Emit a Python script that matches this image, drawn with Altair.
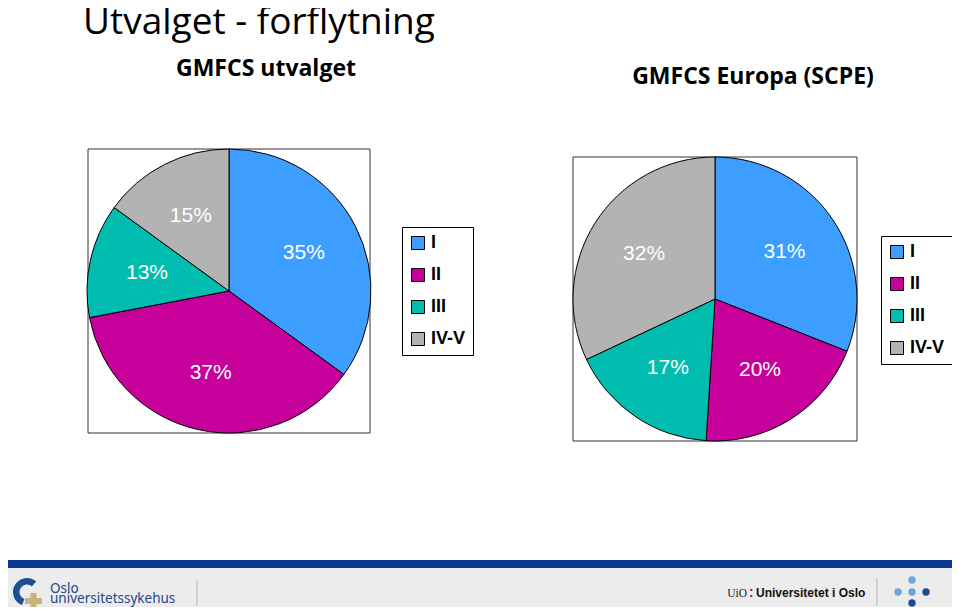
import altair as alt
import pandas as pd

# ---- data ----
categories = ["I", "II", "III", "IV-V"]
utvalget_pct = [35, 37, 13, 15]
europa_pct = [31, 20, 17, 32]
slice_colors = ["#3d9eff", "#c8009b", "#00bdb0", "#b3b3b3"]

title_text = "Utvalget - forflytning"
left_title = "GMFCS utvalget"
right_title = "GMFCS Europa (SCPE)"


def pie_frame(values):
    return pd.DataFrame({
        "gmfcs": categories,
        "pct": values,
        "idx": list(range(len(categories))),
        "label": [f"{v}%" for v in values],
    })


df_left = pie_frame(utvalget_pct)
df_right = pie_frame(europa_pct)
one = pd.DataFrame({"a": [0]})

W, H = 944, 599
OFF = 8  # page margin


def P(v):
    return v - OFF


# ---- footer ----
blue_bar = alt.Chart(one).mark_rect(color="#0b3a8e").encode(
    x=alt.value(0), x2=alt.value(W), y=alt.value(P(560)), y2=alt.value(P(568)))
grey_band = alt.Chart(one).mark_rect(color="#ececec").encode(
    x=alt.value(0), x2=alt.value(W), y=alt.value(P(568)), y2=alt.value(H))
sep1 = alt.Chart(one).mark_rule(color="#b8b8c8", strokeWidth=1).encode(
    x=alt.value(P(197)), y=alt.value(P(580)), y2=alt.value(P(606)))
sep2 = alt.Chart(one).mark_rule(color="#b8b8c8", strokeWidth=1).encode(
    x=alt.value(P(877)), y=alt.value(P(578)), y2=alt.value(P(606)))
ring = alt.Chart(one).mark_arc(color="#1d4f91", radius=14, radius2=7.5,
                               theta=3.5, theta2=7.0).encode(
    x=alt.value(P(27)), y=alt.value(P(592)))
cross_h = alt.Chart(one).mark_rect(color="#c9b27c").encode(
    x=alt.value(P(25)), x2=alt.value(P(42)), y=alt.value(P(598)), y2=alt.value(P(604)))
cross_v = alt.Chart(one).mark_rect(color="#c9b27c").encode(
    x=alt.value(P(30.5)), x2=alt.value(P(36.5)), y=alt.value(P(593)), y2=alt.value(P(607)))
ous1 = alt.Chart(one).mark_text(text="Oslo", font="Noto Sans", fontSize=13.5,
                                color="#23468a", align="left", baseline="alphabetic").encode(
    x=alt.value(P(50)), y=alt.value(P(593)))
ous2 = alt.Chart(one).mark_text(text="universitetssykehus", font="Noto Sans", fontSize=13.5,
                                color="#23468a", align="left", baseline="alphabetic").encode(
    x=alt.value(P(50)), y=alt.value(P(603)))
uio1 = alt.Chart(one).mark_text(text="UiO", font="Liberation Serif", fontSize=11.5,
                                color="#222222", align="right", baseline="alphabetic").encode(
    x=alt.value(P(747)), y=alt.value(P(597)))
uio_colon = alt.Chart(one).mark_text(text=":", font="Liberation Sans", fontSize=14,
                                     fontWeight="bold", color="#d0021b", align="left",
                                     baseline="alphabetic").encode(
    x=alt.value(P(749)), y=alt.value(P(597)))
uio2 = alt.Chart(one).mark_text(text="Universitetet i Oslo", font="Liberation Sans",
                                fontSize=12, fontWeight="bold", color="#111111",
                                align="left", baseline="alphabetic").encode(
    x=alt.value(P(756)), y=alt.value(P(597)))
dots_light = [(912, 580), (898, 592), (912, 592)]
dots_dark = [(926, 592), (912, 603)]
dot_layers = []
for (dx, dy) in dots_light:
    dot_layers.append(alt.Chart(one).mark_circle(color="#6aa6dc", opacity=1, size=55).encode(
        x=alt.value(P(dx)), y=alt.value(P(dy))))
for (dx, dy) in dots_dark:
    dot_layers.append(alt.Chart(one).mark_circle(color="#1b4f8e", opacity=1, size=55).encode(
        x=alt.value(P(dx)), y=alt.value(P(dy))))

# ---- titles ----
main_title = alt.Chart(one).mark_text(text=title_text, font="Open Sans", fontSize=37,
                                      color="black", align="left", baseline="alphabetic").encode(
    x=alt.value(P(83)), y=alt.value(P(34)))
sub_left = alt.Chart(one).mark_text(text=left_title, font="Open Sans", fontSize=23,
                                    fontWeight="bold", color="black", align="center",
                                    baseline="alphabetic").encode(
    x=alt.value(P(266)), y=alt.value(P(76)))
sub_right = alt.Chart(one).mark_text(text=right_title, font="Open Sans", fontSize=23,
                                     fontWeight="bold", color="black", align="center",
                                     baseline="alphabetic").encode(
    x=alt.value(P(753)), y=alt.value(P(84)))

# ---- frames ----
frame_left = alt.Chart(one).mark_rect(fill="white", stroke="#333333", strokeWidth=1).encode(
    x=alt.value(P(88)), x2=alt.value(P(370)), y=alt.value(P(149)), y2=alt.value(P(433)))
frame_right = alt.Chart(one).mark_rect(fill="white", stroke="#333333", strokeWidth=1).encode(
    x=alt.value(P(573)), x2=alt.value(P(857)), y=alt.value(P(157)), y2=alt.value(P(441)))


def legend_at(lx, ly):
    return alt.Legend(orient="none", legendX=lx, legendY=ly, title=None,
                      symbolType="square", symbolSize=169, symbolStrokeColor="black",
                      symbolStrokeWidth=1, symbolOpacity=1,
                      labelFont="Liberation Sans", labelFontSize=18, labelFontWeight="bold",
                      labelColor="black", labelOffset=4, padding=7, rowPadding=14,
                      strokeColor="black", fillColor="white")


def pie(df, cx, cy, lx, ly):
    base = alt.Chart(df).encode(
        theta=alt.Theta("pct:Q", stack=True),
        order=alt.Order("idx:Q"),
        x=alt.value(P(cx)), y=alt.value(P(cy)),
    )
    arcs = base.mark_arc(radius=142, stroke="black", strokeWidth=1).encode(
        color=alt.Color("gmfcs:N",
                        scale=alt.Scale(domain=categories, range=slice_colors),
                        legend=legend_at(lx, ly)))
    labels = base.mark_text(radius=84, font="Liberation Sans", fontSize=21,
                            color="white").encode(text="label:N")
    return arcs, labels


arcs_l, labels_l = pie(df_left, 229, 291, P(402), P(227))
arcs_r, labels_r = pie(df_right, 715, 299, P(881), P(236))

chart = alt.layer(
    blue_bar, grey_band, sep1, sep2, ring, cross_h, cross_v, ous1, ous2,
    uio1, uio_colon, uio2, *dot_layers,
    main_title, sub_left, sub_right,
    frame_left, frame_right,
    arcs_l, labels_l, arcs_r, labels_r,
).resolve_scale(color="independent").properties(
    width=W, height=H, padding=0, autosize=alt.AutoSizeParams(type="none"),
    background="white",
).configure_view(stroke=None).configure_legend(strokeWidth=1)

chart.save("out.html", embed_options={"renderer": "svg", "actions": False})
